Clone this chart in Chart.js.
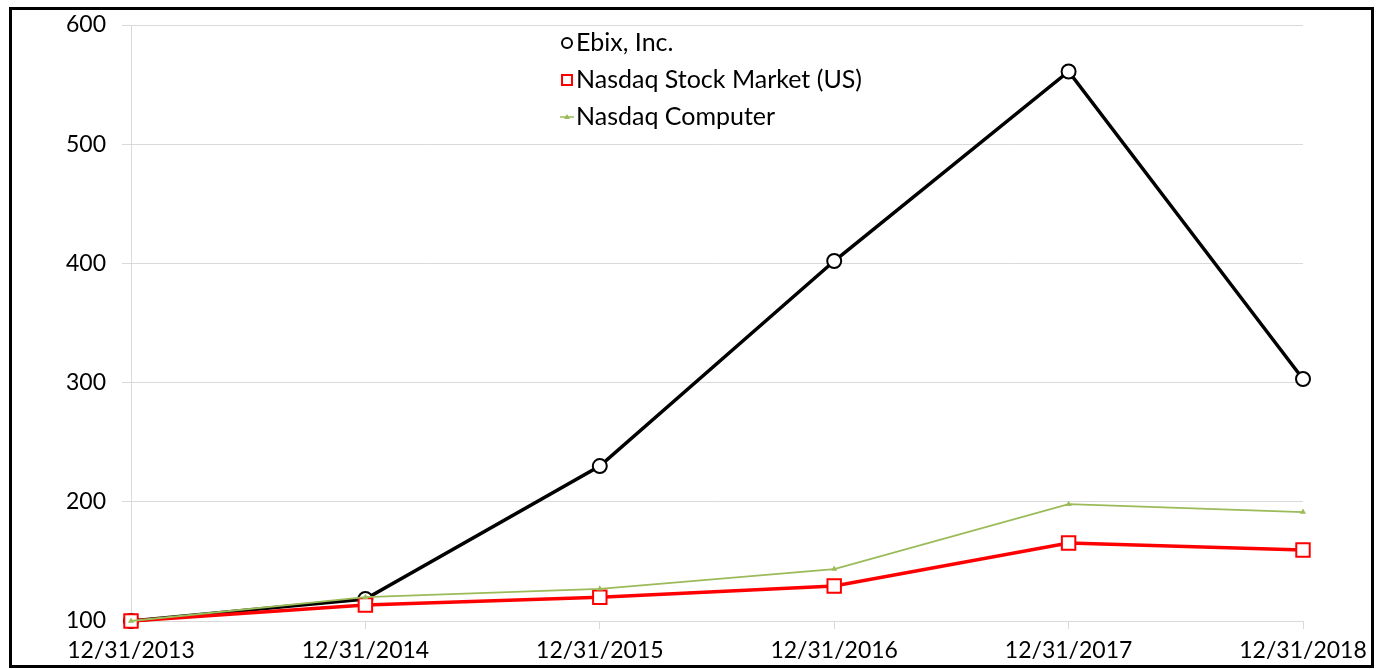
<!DOCTYPE html>
<html>
<head>
<meta charset="utf-8">
<script src="https://cdn.jsdelivr.net/npm/chart.js@4/dist/chart.umd.min.js"></script>
<style>
  html, body { margin: 0; padding: 0; background: #fff; }
  #wrap { position: relative; width: 1381px; height: 669px; }
</style>
</head>
<body>
<div id="wrap"><canvas id="perfChart" width="1381" height="669"></canvas></div>
<script>
const dates = ["12/31/2013", "12/31/2014", "12/31/2015", "12/31/2016", "12/31/2017", "12/31/2018"];
const ebix = [100, 118.5, 230, 402, 561, 303];
const nasdaqMarket = [100, 113.4, 120, 129.4, 165.4, 159.6];
const nasdaqComputer = [100, 120, 127, 143.6, 198, 191.4];
const yTicks = [100, 200, 300, 400, 500, 600];

const FONT = "Lato, Calibri, sans-serif";
const GRID = "#d9d9d9";

// legend drawn inside the plot, under the title area, like the original
const insideLegend = {
  id: "insideLegend",
  afterDraw(chart) {
    const ctx = chart.ctx;
    const x = 567;
    const rows = [43, 80, 117];
    ctx.save();
    ctx.font = "25px " + FONT;
    ctx.textBaseline = "middle";
    ctx.fillStyle = "#000";
    chart.data.datasets.forEach((ds, i) => {
      const y = rows[i];
      ctx.lineWidth = 2;
      if (i === 0) {
        ctx.strokeStyle = ds.borderColor;
        ctx.beginPath();
        ctx.arc(x, y, 5, 0, Math.PI * 2);
        ctx.fillStyle = "#fff";
        ctx.fill();
        ctx.stroke();
      } else if (i === 1) {
        ctx.strokeStyle = ds.borderColor;
        ctx.fillStyle = "#fff";
        ctx.fillRect(x - 5, y - 5, 10, 10);
        ctx.strokeRect(x - 5, y - 5, 10, 10);
      } else {
        ctx.strokeStyle = ds.borderColor;
        ctx.lineWidth = 1.5;
        ctx.beginPath();
        ctx.moveTo(x - 7, y);
        ctx.lineTo(x + 7, y);
        ctx.stroke();
        ctx.fillStyle = ds.borderColor;
        ctx.beginPath();
        ctx.moveTo(x, y - 3);
        ctx.lineTo(x + 3, y + 2);
        ctx.lineTo(x - 3, y + 2);
        ctx.closePath();
        ctx.fill();
      }
      ctx.fillStyle = "#000";
      ctx.fillText(ds.label, x + 9, y);
    });
    ctx.restore();
  }
};

const frame = {
  id: "frame",
  beforeDraw(chart) {
    const ctx = chart.ctx;
    ctx.save();
    ctx.fillStyle = "#fff";
    ctx.fillRect(0, 0, chart.width, chart.height);
    ctx.restore();
  },
  afterDraw(chart) {
    const ctx = chart.ctx;
    ctx.save();
    ctx.strokeStyle = "#000";
    ctx.lineWidth = 3;
    ctx.strokeRect(10.5, 8.5, 1362, 658);
    ctx.restore();
  }
};

new Chart(document.getElementById("perfChart"), {
  type: "line",
  data: {
    labels: dates,
    datasets: [
      {
        label: "Ebix, Inc.",
        data: ebix,
        borderColor: "#000000",
        backgroundColor: "#ffffff",
        borderWidth: 3.5,
        pointStyle: "circle",
        pointRadius: 7,
        pointBorderWidth: 2,
        pointBackgroundColor: "#ffffff",
        clip: false,
        order: 2
      },
      {
        label: "Nasdaq Stock Market (US)",
        data: nasdaqMarket,
        borderColor: "#ff0000",
        backgroundColor: "#ffffff",
        borderWidth: 3.5,
        pointStyle: "rect",
        pointRadius: 9.5,
        pointBorderWidth: 2,
        pointBackgroundColor: "#ffffff",
        clip: false,
        order: 1
      },
      {
        label: "Nasdaq Computer",
        data: nasdaqComputer,
        borderColor: "#9bbb59",
        backgroundColor: "#9bbb59",
        borderWidth: 1.8,
        pointStyle: "triangle",
        pointRadius: 3.5,
        pointBorderWidth: 0,
        pointBackgroundColor: "#9bbb59",
        clip: false,
        order: 0
      }
    ]
  },
  options: {
    responsive: false,
    animation: false,
    layout: { padding: { left: 0, right: 78, top: 25, bottom: 0 } },
    plugins: {
      legend: { display: false },
      tooltip: { enabled: false }
    },
    elements: { line: { tension: 0 } },
    scales: {
      x: {
        offset: false,
        grid: {
          drawOnChartArea: false,
          drawTicks: true,
          tickLength: 8,
          color: GRID
        },
        border: { color: GRID, width: 1 },
        ticks: {
          color: "#000",
          font: { family: FONT, size: 23 },
          padding: 8,
          maxRotation: 0,
          autoSkip: false
        },
        afterFit(scale) { scale.height = 48; }
      },
      y: {
        min: 100,
        max: 600,
        afterBuildTicks(scale) {
          scale.ticks = yTicks.map(v => ({ value: v }));
        },
        grid: {
          color: GRID,
          tickLength: 9
        },
        border: { color: GRID, width: 1 },
        ticks: {
          color: "#000",
          font: { family: FONT, size: 23 },
          padding: 16
        },
        afterFit(scale) {
          scale.width = 131;
          scale.paddingTop = 0;
          scale.paddingBottom = 0;
        }
      }
    }
  },
  plugins: [frame, insideLegend]
});
</script>
</body>
</html>
